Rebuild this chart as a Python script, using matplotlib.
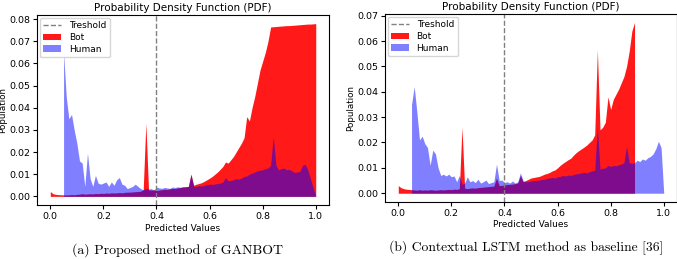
import matplotlib.pyplot as plt
import numpy as np

# (a) GANBOT
x_bot_a = np.round(np.arange(0, 101) * 0.01, 2)
bot_a = [0.0022, 0.0012, 0.0009, 0.0008, 0.0007, 0.0007, 0.0006, 0.0007, 0.0008, 0.0007,
         0.0009, 0.0010, 0.0012, 0.0010, 0.0011, 0.0012, 0.0011, 0.0013, 0.0012, 0.0014,
         0.0013, 0.0015, 0.0014, 0.0016, 0.0015, 0.0016, 0.0017, 0.0016, 0.0018, 0.0019,
         0.0019, 0.0020, 0.0021, 0.0022, 0.0023, 0.0030, 0.0330, 0.0030, 0.0028, 0.0030,
         0.0026, 0.0028, 0.0030, 0.0032, 0.0031, 0.0034, 0.0036, 0.0035, 0.0038, 0.0040,
         0.0042, 0.0044, 0.0045, 0.0100, 0.0050, 0.0055, 0.0058, 0.0062, 0.0068, 0.0075,
         0.0082, 0.0090, 0.0100, 0.0110, 0.0122, 0.0135, 0.0155, 0.0150, 0.0165, 0.0180,
         0.0200, 0.0220, 0.0240, 0.0265, 0.0360, 0.0340, 0.0400, 0.0450, 0.0510, 0.0570,
         0.0610, 0.0650, 0.0700, 0.0765, 0.0766, 0.0767, 0.0768, 0.0769, 0.0770, 0.0771,
         0.0771, 0.0772, 0.0773, 0.0774, 0.0775, 0.0776, 0.0777, 0.0778, 0.0778, 0.0779,
         0.0780]
x_hum_a = np.round(np.arange(5, 101) * 0.01, 2)
hum_a = [0.0650, 0.0450, 0.0350, 0.0370, 0.0300, 0.0240, 0.0160, 0.0150, 0.0045, 0.0195,
         0.0080, 0.0045, 0.0095, 0.0060, 0.0055, 0.0060, 0.0065, 0.0045, 0.0065, 0.0050,
         0.0075, 0.0085, 0.0055, 0.0050, 0.0035, 0.0040, 0.0045, 0.0055, 0.0045, 0.0035,
         0.0030, 0.0035, 0.0033, 0.0035, 0.0028, 0.0042, 0.0038, 0.0036, 0.0040, 0.0038,
         0.0036, 0.0042, 0.0040, 0.0043, 0.0041, 0.0044, 0.0042, 0.0045, 0.0100, 0.0045,
         0.0045, 0.0048, 0.0046, 0.0050, 0.0052, 0.0055, 0.0054, 0.0056, 0.0058, 0.0060,
         0.0065, 0.0085, 0.0070, 0.0072, 0.0075, 0.0080, 0.0078, 0.0082, 0.0090, 0.0092,
         0.0100, 0.0105, 0.0110, 0.0115, 0.0118, 0.0120, 0.0125, 0.0128, 0.0140, 0.0270,
         0.0140, 0.0120, 0.0125, 0.0128, 0.0120, 0.0122, 0.0115, 0.0108, 0.0110, 0.0112,
         0.0140, 0.0145, 0.0120, 0.0080, 0.0040, 0.0000]

# (b) Contextual LSTM
x_bot_b = np.round(np.arange(0, 90) * 0.01, 2)
bot_b = [0.0030, 0.0022, 0.0018, 0.0016, 0.0015, 0.0014, 0.0013, 0.0012, 0.0014, 0.0012,
         0.0013, 0.0012, 0.0014, 0.0013, 0.0012, 0.0013, 0.0014, 0.0013, 0.0014, 0.0015,
         0.0014, 0.0016, 0.0015, 0.0018, 0.0260, 0.0020, 0.0018, 0.0020, 0.0021, 0.0020,
         0.0022, 0.0023, 0.0024, 0.0025, 0.0026, 0.0027, 0.0028, 0.0060, 0.0030, 0.0031,
         0.0033, 0.0034, 0.0035, 0.0036, 0.0038, 0.0040, 0.0070, 0.0045, 0.0050, 0.0055,
         0.0060, 0.0062, 0.0064, 0.0066, 0.0070, 0.0075, 0.0078, 0.0082, 0.0088, 0.0092,
         0.0100, 0.0110, 0.0118, 0.0125, 0.0132, 0.0138, 0.0150, 0.0160, 0.0168, 0.0175,
         0.0182, 0.0190, 0.0200, 0.0210, 0.0230, 0.0565, 0.0250, 0.0260, 0.0280, 0.0380,
         0.0330, 0.0370, 0.0390, 0.0410, 0.0435, 0.0460, 0.0500, 0.0560, 0.0640, 0.0673]
x_hum_b = np.round(np.arange(5, 101) * 0.01, 2)
hum_b = [0.0350, 0.0420, 0.0320, 0.0210, 0.0225, 0.0195, 0.0180, 0.0110, 0.0170, 0.0155,
         0.0100, 0.0070, 0.0075, 0.0068, 0.0075, 0.0065, 0.0068, 0.0045, 0.0070, 0.0035,
         0.0040, 0.0065, 0.0045, 0.0050, 0.0042, 0.0055, 0.0040, 0.0045, 0.0052, 0.0038,
         0.0042, 0.0045, 0.0115, 0.0050, 0.0052, 0.0042, 0.0045, 0.0040, 0.0048, 0.0040,
         0.0045, 0.0080, 0.0050, 0.0045, 0.0046, 0.0048, 0.0050, 0.0050, 0.0052, 0.0054,
         0.0055, 0.0058, 0.0060, 0.0062, 0.0060, 0.0065, 0.0066, 0.0070, 0.0068, 0.0072,
         0.0070, 0.0074, 0.0076, 0.0078, 0.0080, 0.0082, 0.0080, 0.0085, 0.0088, 0.0090,
         0.0260, 0.0095, 0.0098, 0.0100, 0.0110, 0.0105, 0.0110, 0.0108, 0.0112, 0.0115,
         0.0120, 0.0185, 0.0120, 0.0118, 0.0120, 0.0130, 0.0125, 0.0135, 0.0130, 0.0140,
         0.0145, 0.0155, 0.0175, 0.0205, 0.0180, 0.0000]

threshold = 0.4
captions = ['(a) Proposed method of GANBOT', '(b) Contextual LSTM method as baseline [36]']

fig = plt.figure(figsize=(6.77, 2.59), dpi=100)
ax1 = fig.add_axes([0.0547, 0.2085, 0.4313, 0.7336])
ax2 = fig.add_axes([0.5687, 0.2210, 0.4313, 0.7250])

panels = [(ax1, x_bot_a, bot_a, x_hum_a, hum_a),
          (ax2, x_bot_b, bot_b, x_hum_b, hum_b)]

for i, (ax, xb, yb, xh, yh) in enumerate(panels):
    ax.axvline(threshold, color='gray', linestyle='--', linewidth=1, label='Treshold')
    ax.fill_between(xb, yb, color='red', alpha=0.9, linewidth=0, label='Bot')
    ax.fill_between(xh, yh, color='blue', alpha=0.5, linewidth=0, label='Human')
    ax.set_title('Probability Density Function (PDF)', fontsize=7.5, pad=3)
    ax.set_xlabel('Predicted Values', fontsize=6.5, labelpad=2)
    ax.set_ylabel('Population', fontsize=6.3, labelpad=1)
    ax.tick_params(labelsize=6.8, length=3, pad=2)
    ax.set_xticks([0.0, 0.2, 0.4, 0.6, 0.8, 1.0])
    ax.legend(loc='upper left', fontsize=6.5, handlelength=2, borderpad=0.4,
              labelspacing=0.3, handletextpad=0.8, borderaxespad=0.3)
    for s in ax.spines.values():
        s.set_linewidth(0.8)

fig.text(0.2615, 0.035, captions[0], ha='center', va='center', fontsize=10, family='cmr10')
fig.text(0.777, 0.042, captions[1], ha='center', va='center', fontsize=9.8, family='cmr10')

plt.savefig('out.png', dpi=100)
